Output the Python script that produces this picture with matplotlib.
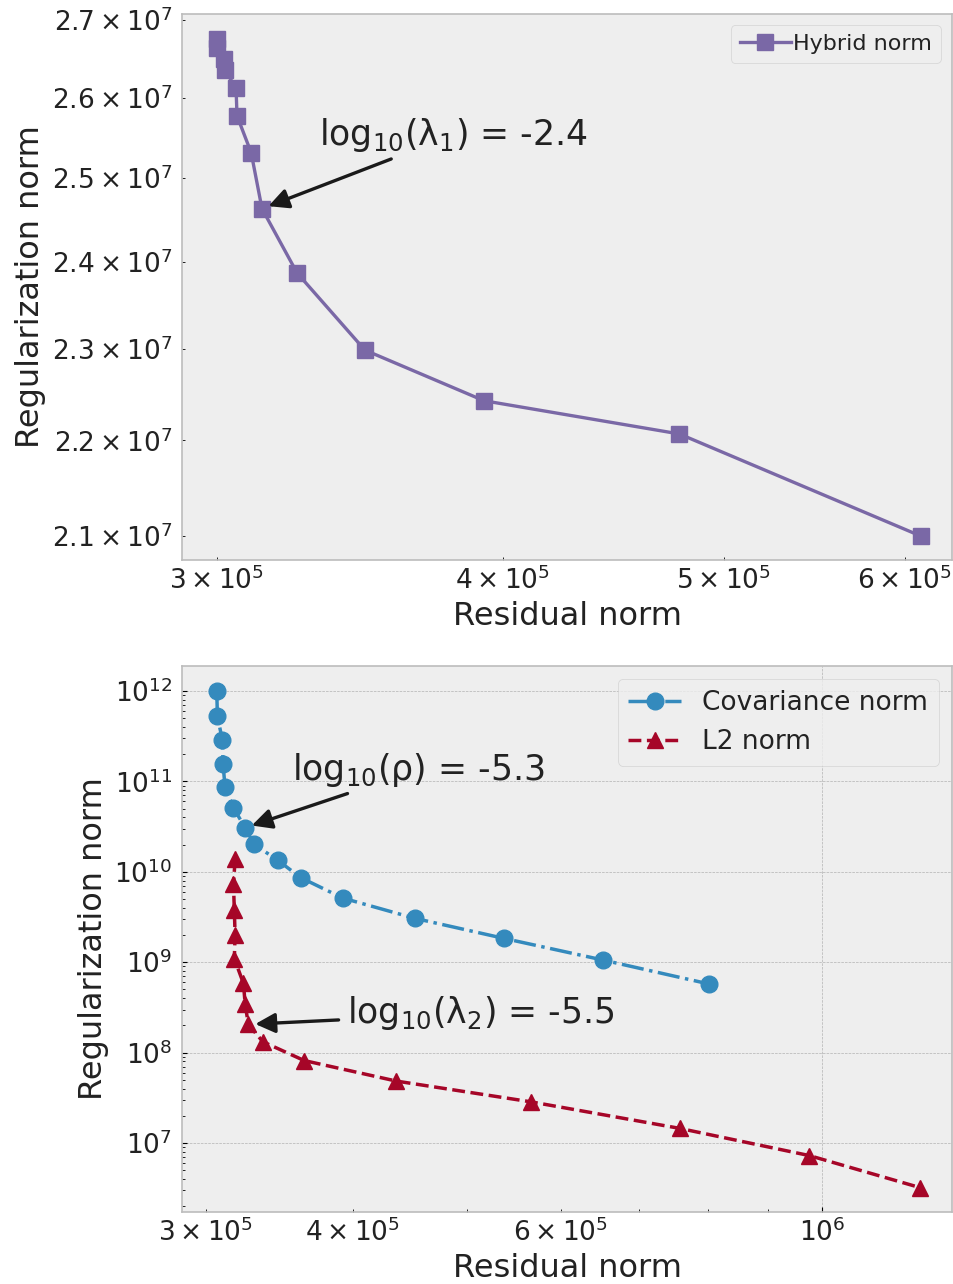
import matplotlib
matplotlib.use('Agg')
import matplotlib.pyplot as plt

plt.style.use('bmh')
plt.rcParams['mathtext.fontset'] = 'dejavusans'
plt.rcParams['font.family'] = ['DejaVu Sans']
plt.rcParams['text.color'] = '#222222'
plt.rcParams['axes.labelcolor'] = '#222222'
plt.rcParams['xtick.labelcolor'] = '#222222'
plt.rcParams['ytick.labelcolor'] = '#222222'
plt.rcParams['axes.linewidth'] = 1.2

# ---- data: top panel (hybrid norm L-curve) ----
hybrid_residual = [3.000e5, 3.001e5, 3.021e5, 3.024e5, 3.058e5, 3.061e5, 3.105e5,
                   3.139e5, 3.252e5, 3.482e5, 3.926e5, 4.780e5, 6.095e5]
hybrid_reg = [2.675e7, 2.664e7, 2.649e7, 2.635e7, 2.612e7, 2.577e7, 2.531e7,
              2.463e7, 2.387e7, 2.299e7, 2.243e7, 2.207e7, 2.100e7]
hybrid_label = 'Hybrid norm'
hybrid_corner = 7
hybrid_text = r'log$_{10}$(λ$_1$) = -2.4'

# ---- data: bottom panel ----
cov_residual = [3.065e5, 3.069e5, 3.099e5, 3.103e5, 3.115e5, 3.166e5, 3.240e5,
                3.297e5, 3.454e5, 3.610e5, 3.920e5, 4.513e5, 5.368e5, 6.518e5, 8.023e5]
cov_reg = [1.0e12, 5.29e11, 2.85e11, 1.546e11, 8.74e10, 5.12e10, 3.075e10,
           2.015e10, 1.34e10, 8.65e9, 5.13e9, 3.06e9, 1.84e9, 1.058e9, 5.74e8]
cov_label = 'Covariance norm'
cov_corner = 6
cov_text = r'log$_{10}$(ρ) = -5.3'

l2_residual = [3.177e5, 3.167e5, 3.172e5, 3.177e5, 3.172e5, 3.229e5, 3.240e5,
               3.260e5, 3.354e5, 3.636e5, 4.353e5, 5.661e5, 7.573e5, 9.756e5, 1.2107e6]
l2_reg = [1.386e10, 7.33e9, 3.78e9, 2.0e9, 1.099e9, 5.84e8, 3.45e8,
          2.056e8, 1.32e8, 8.18e7, 4.85e7, 2.86e7, 1.454e7, 7.27e6, 3.22e6]
l2_label = 'L2 norm'
l2_corner = 7
l2_text = r'log$_{10}$(λ$_2$) = -5.5'

xlabel = 'Residual norm'
ylabel = 'Regularization norm'

fig = plt.figure(figsize=(9.54, 12.84), dpi=100)
ax1 = fig.add_axes([0.1908, 0.5639, 0.8071, 0.4252])
ax2 = fig.add_axes([0.1908, 0.0561, 0.8071, 0.4252])

arrow_kw = dict(arrowstyle='-|>', color='#1a1a1a', lw=2.4, mutation_scale=30,
                shrinkA=4, shrinkB=5)

# Top panel
ax1.plot(hybrid_residual, hybrid_reg, marker='s', ms=11, lw=2.4,
         color='#7A68A6', label=hybrid_label)
ax1.set_xscale('log')
ax1.set_yscale('log')
ax1.set_xlim(2.896e5, 6.291e5)
ax1.set_ylim(2.0756e7, 2.708e7)
ax1.tick_params(which='both', labelsize=19)
ax1.tick_params(axis='y', which='both', pad=7)
ax1.tick_params(axis='x', which='both', pad=5)
ax1.set_xlabel(xlabel, fontsize=23, labelpad=4)
ax1.set_ylabel(ylabel, fontsize=23)
ax1.legend(loc='upper right', fontsize=16, handlelength=2.3, handletextpad=0.1)
ax1.annotate(hybrid_text,
             xy=(hybrid_residual[hybrid_corner], hybrid_reg[hybrid_corner]),
             xytext=(0.352, 0.778), textcoords='axes fraction',
             ha='center', va='center', fontsize=25, arrowprops=arrow_kw)

# Bottom panel
ax2.plot(cov_residual, cov_reg, marker='o', ms=12, lw=2.5, ls='-.',
         color='#348ABD', label=cov_label)
ax2.plot(l2_residual, l2_reg, marker='^', ms=12, lw=2.5, ls='--',
         color='#A60628', label=l2_label)
ax2.set_xscale('log')
ax2.set_yscale('log')
ax2.set_xlim(2.864e5, 1.289e6)
ax2.set_ylim(1.73e6, 1.89e12)
ax2.tick_params(which='both', labelsize=19)
ax2.tick_params(axis='y', which='both', pad=7)
ax2.tick_params(axis='x', which='both', pad=5)
ax2.set_xlabel(xlabel, fontsize=23, labelpad=4)
ax2.set_ylabel(ylabel, fontsize=23)
ax2.legend(loc='upper right', fontsize=19)
ax2.annotate(cov_text,
             xy=(cov_residual[cov_corner], cov_reg[cov_corner]),
             xytext=(0.3065, 0.8095), textcoords='axes fraction',
             ha='center', va='center', fontsize=25, arrowprops=arrow_kw)
ax2.annotate(l2_text,
             xy=(l2_residual[l2_corner], l2_reg[l2_corner]),
             xytext=(0.388, 0.3645), textcoords='axes fraction',
             ha='center', va='center', fontsize=25, arrowprops=arrow_kw)

fig.savefig('out.png', dpi=100)
